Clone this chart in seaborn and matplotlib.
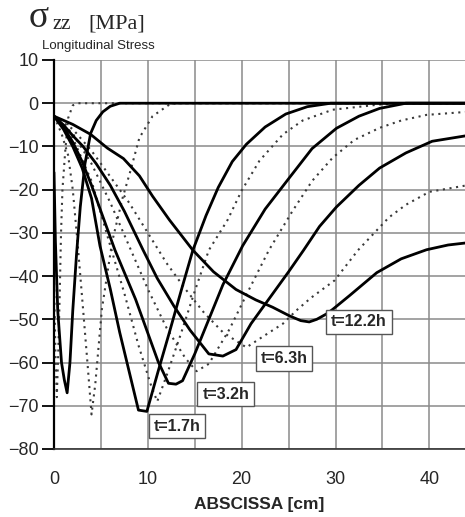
import matplotlib
matplotlib.use("Agg")
import matplotlib.pyplot as plt
import seaborn as sns
import pandas as pd

# ---- longitudinal stress profiles sigma_zz along the abscissa ----
# solid curves (labelled times and the earliest profile)
x_s0 = [0, 0.15, 0.4, 0.8, 1.1, 1.4, 1.7, 2.0, 2.4, 2.8, 3.3, 3.9, 4.5, 5.2, 6.0, 7.0, 44]
y_s0 = [-16, -32, -48, -60, -64, -67, -60, -48, -35, -24, -14, -7, -4, -2, -0.7, 0, 0]

x_t17 = [0, 1, 2, 3, 4, 4.9, 6, 7, 8, 9, 9.9, 11.1, 12.3, 13.6, 14.8, 16.2, 17.5,
         19, 20.5, 22.5, 24.7, 27, 29.5, 44]
y_t17 = [-3, -6, -10, -15, -22, -33, -43, -53, -62, -71, -71.3, -62, -53, -43, -34,
         -26, -19.5, -13.5, -9.5, -5.5, -2.5, -0.8, 0, 0]

x_t32 = [0, 1, 2, 3, 4, 5, 6.5, 8.7, 11.1, 12.2, 13, 13.7, 15, 16.5, 18, 20.1, 22.5,
         25.1, 27.5, 30.1, 32.5, 34.7, 37.5, 44]
y_t32 = [-3, -5.5, -9, -13.5, -19, -25, -34, -45.4, -59.8, -64.8, -65, -64.2, -58,
         -50, -42, -33, -24.5, -17.2, -10.5, -5.8, -3, -1.2, 0, 0]

x_t63 = [0, 1, 2, 3.1, 4.5, 6, 7.5, 9.5, 11, 12.8, 14.5, 16.5, 18, 19.4, 21, 23, 25,
         26.6, 28.3, 30.1, 32.5, 34.7, 37.5, 40.3, 44]
y_t63 = [-3, -5, -7.5, -10, -14, -19, -25, -34, -40.5, -47, -52.5, -58, -58.5, -57,
         -51, -45, -39, -34, -28.5, -24, -19, -15, -11.5, -8.8, -7.5]

x_t122 = [0, 2, 3.9, 5.7, 7.4, 9.1, 10.5, 12.3, 14.8, 17, 19.4, 21.5, 23.3, 25.1,
          26.3, 27.2, 28, 29, 29.7, 31.5, 34.4, 37, 39.7, 42, 44]
y_t122 = [-3, -4.9, -7.2, -10.4, -12.8, -16.8, -21.5, -27, -34, -39, -43.1, -45.5,
          -47.2, -49.2, -50.3, -50.6, -50, -48.8, -47.7, -44.5, -39.2, -36, -33.9,
          -32.8, -32.3]

# dotted curves (intermediate times)
x_d0 = [0, 0.15, 0.3, 0.45, 0.6, 0.75, 0.9, 1.2, 1.5, 2.0, 2.6, 44]
y_d0 = [-40, -58, -68, -58, -45, -30, -20, -11, -3.5, -0.5, 0, 0]

x_d1 = [0, 0.8, 1.5, 2.0, 2.5, 3.1, 3.6, 4.0, 4.4, 5.1, 6.2, 7.3, 8.1, 9.1, 10.5,
        12.3, 13, 44]
y_d1 = [-3, -7, -12, -20, -32, -47.7, -61, -72, -65, -47.7, -32, -22, -16, -8,
        -3, -0.3, 0, 0]

x_d2 = [0, 2, 4, 6, 7.5, 9, 10.3, 11, 12, 13.5, 15, 16.5, 18.5, 20, 21.9, 24.4,
        26.5, 29.7, 34.7, 37, 44]
y_d2 = [-3, -8, -18, -33, -44, -56, -65, -69, -63, -53.5, -43.5, -34, -27, -20.2,
        -13.3, -7.2, -4, -1.5, -0.3, 0, 0]

x_d3 = [0, 2, 4, 6, 8, 10, 12, 14, 15.2, 16.5, 18.7, 20.6, 22.9, 25.4, 27.5, 29.7,
        32, 34.7, 37, 39.7, 44]
y_d3 = [-3, -7, -14, -23, -33, -43, -52, -59, -62, -60.3, -52.3, -43.9, -34, -25,
        -18, -12.6, -8.5, -5.7, -4, -2.7, -2]

x_d4 = [0, 2, 4, 6, 8, 10, 12, 14, 16, 18, 20.5, 22.4, 24.4, 25.8, 27.4, 29.9,
        32.4, 35.7, 37.5, 40, 44]
y_d4 = [-3, -6, -11, -17, -23, -30, -37, -43, -48.5, -53, -56.5, -53.8, -51, -48,
        -45, -41, -34, -26.4, -23.5, -20.5, -19]

solid_curves = [(x_s0, y_s0), (x_t17, y_t17), (x_t32, y_t32),
                (x_t63, y_t63), (x_t122, y_t122)]
dotted_curves = [(x_d0, y_d0), (x_d1, y_d1), (x_d2, y_d2),
                 (x_d3, y_d3), (x_d4, y_d4)]

# time labels and their anchor points (x, y in data units)
time_labels = ["t=1.7h", "t=3.2h", "t=6.3h", "t=12.2h"]
label_x = [13.1, 18.3, 24.5, 32.5]
label_y = [-74.7, -67.3, -59.1, -50.6]

x_ticks = [0, 10, 20, 30, 40]
y_ticks = [10, 0, -10, -20, -30, -40, -50, -60, -70, -80]

sns.set_style("white")
plt.rcParams["font.family"] = ["Liberation Sans", "DejaVu Sans"]

fig = plt.figure(figsize=(4.65, 5.17), dpi=100)
ax = fig.add_axes([54 / 465, 1 - 449 / 517, 1 - 54 / 465, (449 - 60) / 517])

# grid every 5 cm and every 10 MPa
for gx in range(5, 45, 5):
    ax.axvline(gx, color="#8a8a8a", lw=1.1, zorder=0)
for gy in y_ticks:
    ax.axhline(gy, color="#8a8a8a", lw=1.1, zorder=0)

for xs, ys in dotted_curves:
    df = pd.DataFrame({"x": xs, "y": ys})
    sns.lineplot(data=df, x="x", y="y", ax=ax, sort=False, estimator=None,
                 color="#3a3a3a", lw=1.5, linestyle=(0, (1, 2.2)), zorder=2)
for xs, ys in solid_curves:
    df = pd.DataFrame({"x": xs, "y": ys})
    sns.lineplot(data=df, x="x", y="y", ax=ax, sort=False, estimator=None,
                 color="black", lw=2.0, zorder=3)

for txt, lx, ly in zip(time_labels, label_x, label_y):
    ax.text(lx, ly, txt, ha="center", va="center", fontsize=11.5,
            fontweight="bold", zorder=5,
            bbox=dict(boxstyle="square,pad=0.3", fc="white", ec="#555555", lw=1))

ax.set_xlim(0, 43.8)
ax.set_ylim(-80, 10)
ax.set_xticks(x_ticks)
ax.set_yticks(y_ticks)
ax.tick_params(axis="y", direction="out", length=9, width=1.3, labelsize=13, pad=2,
               left=True, color="black")
ax.tick_params(axis="x", length=0, labelsize=13, pad=16)
for side in ["top", "right"]:
    ax.spines[side].set_visible(False)
ax.spines["left"].set_linewidth(1.6)
ax.spines["bottom"].set_linewidth(1.2)
ax.spines["left"].set_color("black")
ax.spines["bottom"].set_color("#333333")
ax.set_xlabel("ABSCISSA [cm]", fontsize=12.5, fontweight="bold", labelpad=6)
ax.set_ylabel("")

# axis title in the upper left corner: upright serif sigma with "zz" subscript
fig.text(29 / 465, 1 - 27 / 517, "σ", fontsize=27, family="Liberation Serif",
         ha="left", va="baseline")
fig.text(52 / 465, 1 - 29 / 517, "zz", fontsize=15, family="Liberation Serif",
         ha="left", va="baseline")
fig.text(88 / 465, 1 - 28 / 517, "[MPa]", fontsize=16,
         family="Liberation Serif", ha="left", va="baseline")
fig.text(42 / 465, 1 - 49 / 517, "Longitudinal Stress", fontsize=9.5,
         ha="left", va="baseline")

fig.savefig("out.png", dpi=100)
